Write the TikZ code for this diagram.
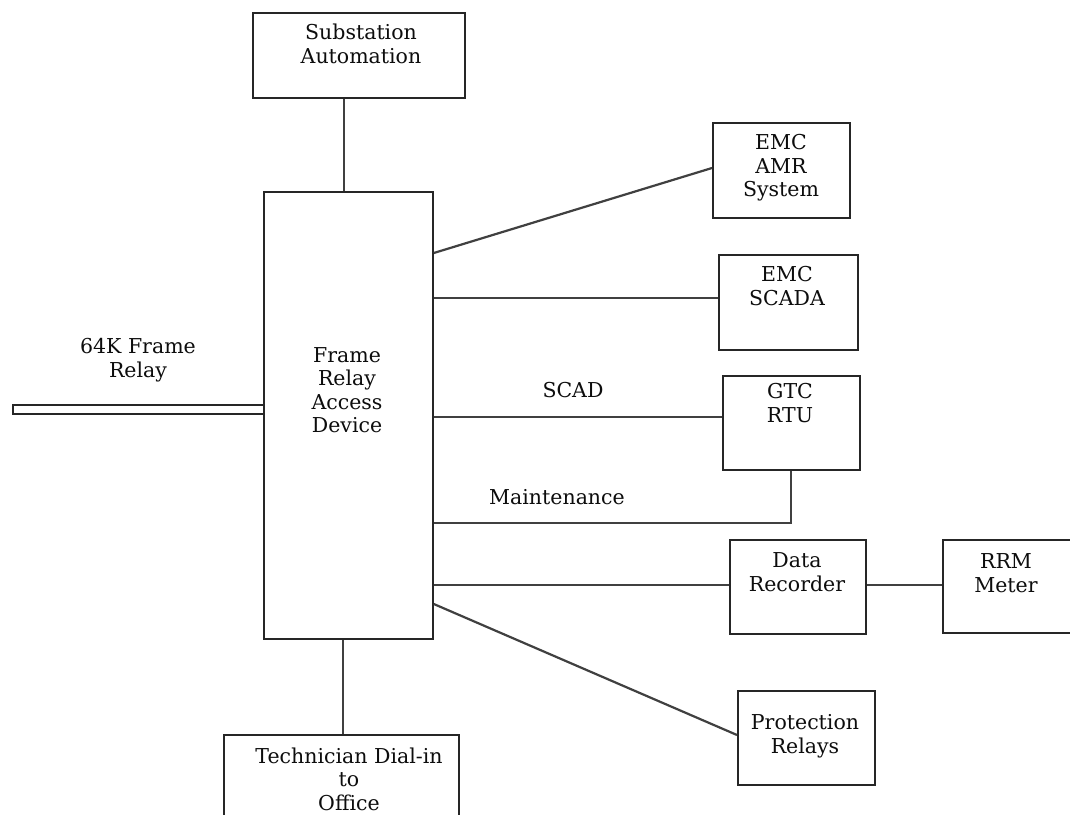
\documentclass[tikz,border=0pt]{standalone}
\usepackage{fontspec}
\setmainfont{DejaVu Serif}
\begin{document}
\begin{tikzpicture}[x=1pt,y=-1pt,
  box/.style={draw=black!85, line width=1.8pt, rectangle, inner sep=0pt, anchor=north west},
  conn/.style={draw=black!75, line width=2.2pt},
  txt/.style={align=center, inner sep=0pt, text=black!95, font=\fontsize{20.5}{23.5}\selectfont}]
\clip (0,0) rectangle (1070,814);
\fill[white] (0,0) rectangle (1070,814);
% boxes
\node[box, minimum width=212pt, minimum height=85pt] (sub) at (252,12) {};
\node[box, minimum width=169pt, minimum height=447pt] (fra) at (263,191) {};
\node[box, minimum width=235pt, minimum height=120pt] (tech) at (223,734) {};
\node[box, minimum width=251pt, minimum height=9pt, line width=1.5pt] (fr) at (12,404) {};
\node[box, minimum width=137pt, minimum height=95pt] (amr) at (712,122) {};
\node[box, minimum width=139pt, minimum height=95pt] (scada) at (718,254) {};
\node[box, minimum width=137pt, minimum height=94pt] (rtu) at (722,375) {};
\node[box, minimum width=136pt, minimum height=94pt] (rec) at (729,539) {};
\node[box, minimum width=130pt, minimum height=93pt] (rrm) at (942,539) {};
\node[box, minimum width=137pt, minimum height=94pt] (prot) at (737,690) {};
% texts
\node[txt] (subt) at (361,44) {Substation\\Automation};
\node[txt] (frat) at (347,390) {Frame\\Relay\\Access\\Device};
\node[txt] (techt) at (349,779) {Technician Dial-in\\to\\Office};
\node[txt] (frt) at (138,360) {64K Frame\\Relay};
\node[txt] (amrt) at (781,168) {EMC\\AMR\\System};
\node[txt] (scadat) at (787,286) {EMC\\SCADA};
\node[txt] (rtut) at (790,403) {GTC\\RTU};
\node[txt] (rect) at (797,572) {Data\\Recorder};
\node[txt] (rrmt) at (1006,573) {RRM\\Meter};
\node[txt] (prott) at (805,736) {Protection\\Relays};
\node[txt] (scadl) at (573,390) {SCAD};
\node[txt] (maintl) at (557,497) {Maintenance};
% connectors
\coordinate (m1) at (791,523);
\draw[conn] (sub.south -| 344,0) -- (fra.north -| 344,0);
\draw[conn] (fra.south -| 343,0) -- (tech.north -| 343,0);
\draw[conn] (fra.east |- 0,253) -- (amr.west |- 0,168);
\draw[conn] (fra.east |- 0,298) -- (scada.west |- 0,298);
\draw[conn] (fra.east |- 0,417) -- (rtu.west |- 0,417);
\draw[conn] (fra.east |- m1) -- (m1) -- (rtu.south -| m1);
\draw[conn] (fra.east |- 0,585) -- (rec.west |- 0,585);
\draw[conn] (rec.east |- 0,585) -- (rrm.west |- 0,585);
\draw[conn] (fra.east |- 0,604) -- (prot.west |- 0,735);
\end{tikzpicture}
\end{document}
